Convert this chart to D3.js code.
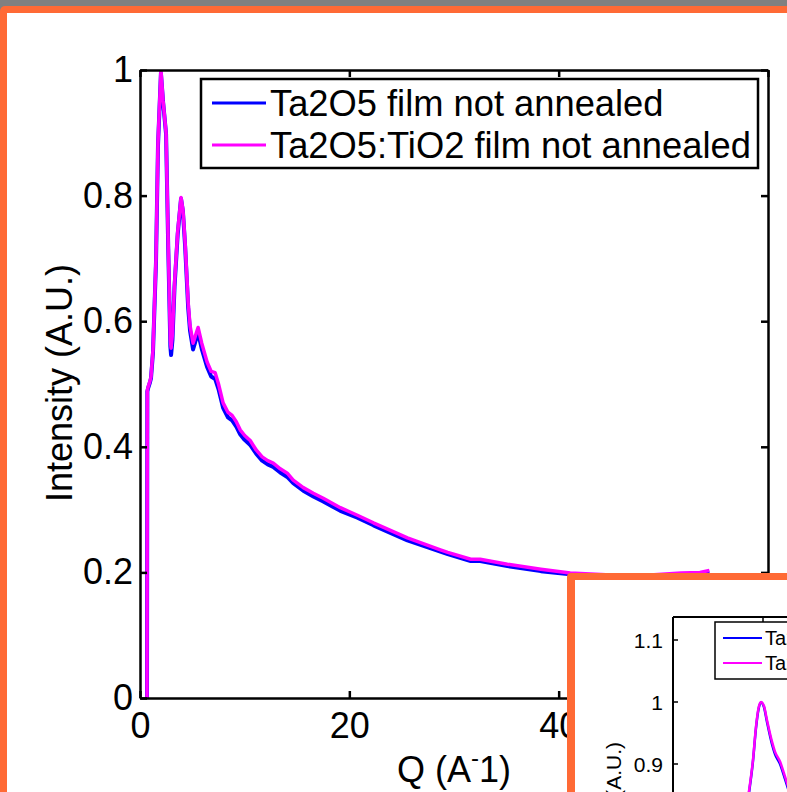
<!DOCTYPE html>
<html>
<head>
<meta charset="utf-8">
<script src="https://cdn.jsdelivr.net/npm/d3@7"></script>
<style>
  body { margin: 0; background: #fff; overflow: hidden; }
  text { font-family: "Liberation Sans", Arial, Helvetica, sans-serif; fill: #000; }
</style>
</head>
<body>
<svg id="chart"></svg>
<script>
// main plot data
var q = [0.67, 0.70, 0.77, 0.96, 1.05, 1.24, 1.53, 1.72, 2.0, 2.2, 2.49, 2.7, 2.9, 2.97, 3.1, 3.3, 3.6, 3.92, 4.1, 4.31, 4.6, 4.78, 5.07, 5.3, 5.55, 5.9, 6.41, 6.8, 7.18, 7.5, 7.94, 8.4, 8.8, 9.2, 9.57, 10.0, 10.53, 11.1, 11.67, 12.2, 12.73, 13.4, 14.07, 14.64, 15.6, 16.56, 17.51, 19.14, 20.77, 22.3, 25.55, 28.7, 29.4, 31.6, 32.5, 35.1, 38.3, 41.1, 45.0, 48.0, 51.7, 53.5, 54.4];
var ta2o5 = [0.0, 0.488, 0.493, 0.503, 0.509, 0.55, 0.695, 0.88, 0.995, 0.95, 0.898, 0.715, 0.56, 0.546, 0.57, 0.655, 0.738, 0.795, 0.775, 0.72, 0.622, 0.585, 0.555, 0.568, 0.582, 0.556, 0.527, 0.512, 0.508, 0.492, 0.462, 0.447, 0.442, 0.432, 0.42, 0.411, 0.403, 0.389, 0.378, 0.372, 0.368, 0.359, 0.352, 0.342, 0.33, 0.321, 0.313, 0.298, 0.287, 0.275, 0.251, 0.233, 0.229, 0.218, 0.218, 0.21, 0.202, 0.197, 0.194, 0.193, 0.197, 0.198, 0.201];
var ta2o5tio2 = [0.0, 0.49, 0.495, 0.505, 0.511, 0.554, 0.70, 0.884, 1.0, 0.952, 0.90, 0.72, 0.57, 0.557, 0.58, 0.66, 0.742, 0.797, 0.778, 0.725, 0.63, 0.593, 0.565, 0.577, 0.59, 0.565, 0.535, 0.52, 0.518, 0.50, 0.47, 0.455, 0.45, 0.44, 0.427, 0.418, 0.41, 0.395, 0.384, 0.378, 0.374, 0.365, 0.358, 0.347, 0.335, 0.326, 0.318, 0.303, 0.291, 0.279, 0.255, 0.236, 0.232, 0.221, 0.221, 0.213, 0.205, 0.199, 0.196, 0.195, 0.199, 0.2, 0.203];
var xTicks = [0, 20, 40, 60];
var yTicks = [0, 0.2, 0.4, 0.6, 0.8, 1];
var seriesNames = ['Ta2O5 film not annealed', 'Ta2O5:TiO2 film not annealed'];
var seriesColors = ['#0000ff', '#ff00ff'];

// inset (zoom on the first peak)
var qInset = [1.6, 1.7, 1.8, 1.844, 1.889, 1.922, 1.95, 1.978, 2.01, 2.044, 2.1, 2.133, 2.189, 2.244, 2.3, 2.4];
var insetA = [0.62, 0.72, 0.81, 0.853, 0.905, 0.958, 0.988, 0.999, 0.992, 0.968, 0.932, 0.916, 0.9, 0.876, 0.85, 0.8];
var insetB = [0.63, 0.725, 0.815, 0.856, 0.907, 0.96, 0.99, 1.0, 0.994, 0.971, 0.936, 0.92, 0.904, 0.88, 0.854, 0.805];
var insetYTicks = [0.9, 1, 1.1];
var insetXTicks = [2];

const width = 787
const height = 792
const orange = '#ff6a35'

var svg = d3.select('#chart')
    .attr('width', width)
    .attr('height', height)

// page frame: grey strip, orange border
svg.append('rect').attr('x', 0).attr('y', 0).attr('width', width).attr('height', height).attr('fill', '#808080')
svg.append('rect').attr('x', 0).attr('y', 6).attr('width', width + 20).attr('height', height + 20).attr('rx', 5).attr('fill', orange)
svg.append('rect').attr('x', 7).attr('y', 13).attr('width', width).attr('height', height).attr('fill', '#fff')

// MAIN PLOT
var pLeft = 140, pRight = 768, pTop = 70, pBottom = 698

var x = d3.scaleLinear().domain([0, 60]).range([pLeft, pRight])
var y = d3.scaleLinear().domain([0, 1]).range([pBottom, pTop])

svg.append('clipPath').attr('id', 'mainclip')
    .append('rect').attr('x', pLeft).attr('y', pTop).attr('width', pRight - pLeft).attr('height', pBottom - pTop)

var line = d3.line()
    .x(function (d) { return x(d[0]); })
    .y(function (d) { return y(d[1]); })

var lines = svg.append('g').attr('clip-path', 'url(#mainclip)')
lines.append('path')
    .datum(q.map(function (v, i) { return [v, ta2o5[i]]; }))
    .attr('d', line).attr('fill', 'none').attr('stroke', seriesColors[0])
    .attr('stroke-width', 4).attr('stroke-linejoin', 'round')
lines.append('path')
    .datum(q.map(function (v, i) { return [v, ta2o5tio2[i]]; }))
    .attr('d', line).attr('fill', 'none').attr('stroke', seriesColors[1])
    .attr('stroke-width', 3.5).attr('stroke-linejoin', 'round')

// axes, ticks inside, mirrored on top / right
var fs = 36
svg.append('g').attr('transform', 'translate(0,' + pBottom + ')')
    .call(d3.axisBottom(x).tickValues(xTicks).tickSizeInner(-7).tickSizeOuter(0).tickPadding(14).tickFormat(d3.format('d')))
svg.append('g').attr('transform', 'translate(0,' + pTop + ')')
    .call(d3.axisTop(x).tickValues(xTicks).tickSizeInner(-7).tickSizeOuter(0).tickFormat(''))
svg.append('g').attr('transform', 'translate(' + pLeft + ',0)')
    .call(d3.axisLeft(y).tickValues(yTicks).tickSizeInner(-7).tickSizeOuter(0).tickPadding(7).tickFormat(function (d) { return d3.format('')(d); }))
svg.append('g').attr('transform', 'translate(' + pRight + ',0)')
    .call(d3.axisRight(y).tickValues(yTicks).tickSizeInner(-7).tickSizeOuter(0).tickFormat(''))

svg.selectAll('.domain').attr('stroke', '#000').attr('stroke-width', 2.5)
svg.selectAll('.tick line').attr('stroke', '#000').attr('stroke-width', 2.5)
svg.selectAll('.tick text').style('font-size', fs + 'px').attr('fill', '#000')

// axis titles
var xl = svg.append('text').attr('x', 454).attr('y', 782).attr('text-anchor', 'middle').style('font-size', fs + 'px')
xl.append('tspan').text('Q (A')
xl.append('tspan').attr('dy', -16).style('font-size', '24px').text('-')
xl.append('tspan').attr('dy', 16).text('1)')

svg.append('text')
    .attr('transform', 'translate(72,383) rotate(-90)')
    .attr('text-anchor', 'middle')
    .style('font-size', fs + 'px')
    .text('Intensity (A.U.)')

// legend
var lg = svg.append('g')
lg.append('rect').attr('x', 201).attr('y', 79).attr('width', 557).attr('height', 89)
    .attr('fill', '#fff').attr('stroke', '#000').attr('stroke-width', 2.5)
seriesNames.forEach(function (name, i) {
    var ly = 103 + i * 42
    lg.append('line').attr('x1', 212).attr('x2', 266).attr('y1', ly).attr('y2', ly)
        .attr('stroke', seriesColors[i]).attr('stroke-width', 3)
    lg.append('text').attr('x', 270).attr('y', ly + 13).style('font-size', '36.3px').text(name)
})

// INSET
svg.append('rect').attr('x', 567).attr('y', 573).attr('width', 300).attr('height', 300).attr('rx', 4).attr('fill', orange)
svg.append('rect').attr('x', 575).attr('y', 580).attr('width', 300).attr('height', 300).attr('fill', '#fff')

var il = 673, it = 617
var ix = d3.scaleLinear().domain([1, 2.5]).range([il, il + 135])
var iy = d3.scaleLinear().domain([0.8, 1.1]).range([826, 640])

svg.append('clipPath').attr('id', 'insetclip')
    .append('rect').attr('x', il).attr('y', it).attr('width', 200).attr('height', 200)

var iline = d3.line()
    .curve(d3.curveMonotoneX)
    .x(function (d) { return ix(d[0]); })
    .y(function (d) { return iy(d[1]); })

var ilines = svg.append('g').attr('clip-path', 'url(#insetclip)')
ilines.append('path')
    .datum(qInset.map(function (v, i) { return [v, insetA[i]]; }))
    .attr('d', iline).attr('fill', 'none').attr('stroke', seriesColors[0]).attr('stroke-width', 2.5)
ilines.append('path')
    .datum(qInset.map(function (v, i) { return [v, insetB[i]]; }))
    .attr('d', iline).attr('fill', 'none').attr('stroke', seriesColors[1]).attr('stroke-width', 2.5)

var inset = svg.append('g').attr('class', 'inset')
inset.append('line').attr('x1', il).attr('x2', il).attr('y1', it).attr('y2', height + 10).attr('stroke', '#000').attr('stroke-width', 2)
inset.append('line').attr('x1', il).attr('x2', width + 10).attr('y1', it).attr('y2', it).attr('stroke', '#000').attr('stroke-width', 2)
insetYTicks.forEach(function (t) {
    inset.append('line').attr('x1', il).attr('x2', il + 5).attr('y1', iy(t)).attr('y2', iy(t)).attr('stroke', '#000').attr('stroke-width', 1.5)
    inset.append('text').attr('x', 663).attr('y', iy(t)).attr('dy', '0.36em').attr('text-anchor', 'end')
        .style('font-size', '21px').text(d3.format('')(t))
})
insetXTicks.forEach(function (t) {
    inset.append('line').attr('x1', ix(t)).attr('x2', ix(t)).attr('y1', it).attr('y2', it + 5).attr('stroke', '#000').attr('stroke-width', 1.5)
})
inset.append('text')
    .attr('transform', 'translate(621,742) rotate(-90)')
    .attr('text-anchor', 'end')
    .style('font-size', '21px')
    .text('Intensity (A.U.)')

inset.append('rect').attr('x', 715).attr('y', 622).attr('width', 300).attr('height', 57)
    .attr('fill', '#fff').attr('stroke', '#000').attr('stroke-width', 1.5)
seriesNames.forEach(function (name, i) {
    var ly = 638 + i * 25
    inset.append('line').attr('x1', 723).attr('x2', 762).attr('y1', ly).attr('y2', ly)
        .attr('stroke', seriesColors[i]).attr('stroke-width', 2)
    inset.append('text').attr('x', 765).attr('y', ly + 7).style('font-size', '20px').text(name)
})
</script>
</body>
</html>
